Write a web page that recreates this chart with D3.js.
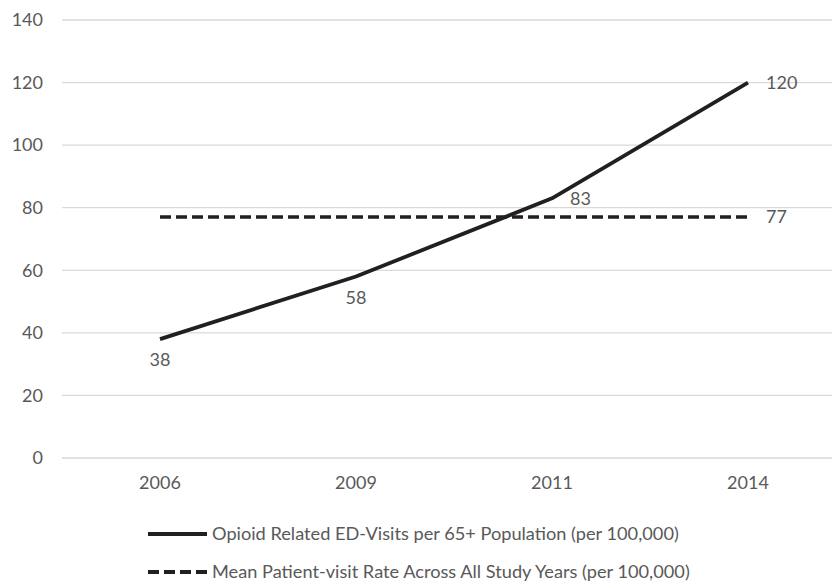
<!DOCTYPE html>
<html><head><meta charset="utf-8">
<script src="https://cdn.jsdelivr.net/npm/d3@7"></script>
<style>body{margin:0;background:#fff}svg{display:block}text{font-family:Lato,"Open Sans",sans-serif;fill:#595959}</style>
</head><body><svg id="c" width="832" height="583"></svg>
<script>
const years = ["2006","2009","2011","2014"];
const visits = [38,58,83,120];
const meanRate = [77,77,77,77];
const yTicks = [0,20,40,60,80,100,120,140];
const seriesNames = ["Opioid Related ED-Visits per 65+ Population (per 100,000)","Mean Patient-visit Rate Across All Study Years (per 100,000)"];
const labelPos = ["below","below","right","right"];

const svg = d3.select("#c");
const x = d3.scaleBand().domain(years).range([62,846]).padding(0);
const cx = d => x(d) + x.bandwidth()/2;
const y = d3.scaleLinear().domain([0,140]).range([458,20]);

// gridlines
svg.append("g").selectAll("line").data(yTicks).join("line")
  .attr("x1",62).attr("x2",846).attr("y1",d=>y(d)).attr("y2",d=>y(d))
  .attr("stroke","#d9d9d9").attr("stroke-width",1.3);
// y labels
svg.append("g").selectAll("text").data(yTicks).join("text")
  .attr("x",43).attr("y",d=>y(d)).attr("dy","0.35em").attr("text-anchor","end")
  .attr("font-size",18).text(d=>d);
// x labels
svg.append("g").selectAll("text").data(years).join("text")
  .attr("x",d=>cx(d)).attr("y",483).attr("dy","0.35em").attr("text-anchor","middle")
  .attr("font-size",18).text(d=>d);

const line = d3.line().x((d,i)=>cx(years[i])).y(d=>y(d));
svg.append("path").datum(meanRate).attr("d",line).attr("fill","none")
  .attr("stroke","#231f20").attr("stroke-width",3.5).attr("stroke-dasharray","11,5");
svg.append("path").datum(visits).attr("d",line).attr("fill","none")
  .attr("stroke","#231f20").attr("stroke-width",3.8).attr("stroke-linejoin","round");

// data labels
svg.append("g").selectAll("text").data(visits).join("text")
  .attr("x",(d,i)=> labelPos[i]==="right" ? cx(years[i])+18 : cx(years[i]))
  .attr("y",(d,i)=> labelPos[i]==="right" ? y(d) : y(d)+21)
  .attr("dy","0.35em")
  .attr("text-anchor",(d,i)=> labelPos[i]==="right" ? "start" : "middle")
  .attr("font-size",18).text(d=>d);
svg.append("text").attr("x",cx(years[3])+18).attr("y",y(meanRate[3])).attr("dy","0.35em")
  .attr("font-size",18).text(meanRate[3]);

// legend
const lg = svg.append("g");
[0,1].forEach(i=>{
  const ly = 534 + i*38;
  lg.append("line").attr("x1",148).attr("x2",207).attr("y1",ly).attr("y2",ly)
    .attr("stroke","#231f20").attr("stroke-width",3.8)
    .attr("stroke-dasharray", i===1 ? "11,5" : null);
  lg.append("text").attr("x",212).attr("y",ly).attr("dy","0.35em")
    .attr("font-size",18.2).text(seriesNames[i]);
});
</script></body></html>
